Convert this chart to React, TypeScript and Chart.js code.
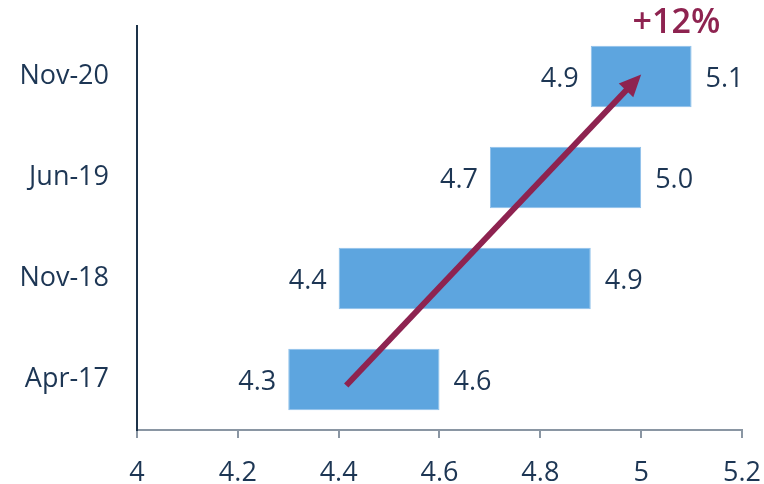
import React, { useEffect, useRef } from "react";
import { Chart, registerables } from "chart.js";

Chart.register(...registerables);

const categories = ["Nov-20", "Jun-19", "Nov-18", "Apr-17"];
const rangeStart = [4.9, 4.7, 4.4, 4.3];
const rangeEnd = [5.1, 5.0, 4.9, 4.6];
const startLabels = ["4.9", "4.7", "4.4", "4.3"];
const endLabels = ["5.1", "5.0", "4.9", "4.6"];
const arrowFrom = [4.415, 3.06];
const arrowTo = [5.0, -0.02];
const changeLabel = "+12%";
const changeLabelX = 5.07;

const FONT = "'Open Sans', 'Noto Sans', sans-serif";
const TEXT = "#1d3654";
const BAR = "#5DA5DF";
const ARROW = "#8E2350";

const overlay = {
  id: "overlay",
  afterDatasetsDraw(chart: any) {
    const ctx = chart.ctx;
    const x = chart.scales.x;
    const y = chart.scales.y;
    const meta = chart.getDatasetMeta(0);
    ctx.save();
    ctx.font = `27px ${FONT}`;
    ctx.fillStyle = TEXT;
    ctx.textBaseline = "middle";
    meta.data.forEach((bar: any, i: number) => {
      const left = x.getPixelForValue(rangeStart[i]);
      const right = x.getPixelForValue(rangeEnd[i]);
      const cy = bar.y + 3;
      ctx.textAlign = "right";
      ctx.fillText(startLabels[i], left - 12, cy);
      ctx.textAlign = "left";
      ctx.fillText(endLabels[i], right + 14, cy);
    });
    // arrow
    const x0 = x.getPixelForValue(arrowFrom[0]);
    const y0 = y.getPixelForValue(arrowFrom[1]);
    const x1 = x.getPixelForValue(arrowTo[0]);
    const y1 = y.getPixelForValue(arrowTo[1]);
    const ang = Math.atan2(y1 - y0, x1 - x0);
    const headLen = 22;
    const headW = 10;
    const bx = x1 - headLen * Math.cos(ang);
    const by = y1 - headLen * Math.sin(ang);
    ctx.strokeStyle = ARROW;
    ctx.fillStyle = ARROW;
    ctx.lineWidth = 6;
    ctx.lineCap = "butt";
    ctx.beginPath();
    ctx.moveTo(x0, y0);
    ctx.lineTo(bx + 2 * Math.cos(ang), by + 2 * Math.sin(ang));
    ctx.stroke();
    ctx.beginPath();
    ctx.moveTo(x1, y1);
    ctx.lineTo(bx + headW * Math.sin(ang), by - headW * Math.cos(ang));
    ctx.lineTo(bx - headW * Math.sin(ang), by + headW * Math.cos(ang));
    ctx.closePath();
    ctx.fill();
    // change label
    ctx.font = `600 34px ${FONT}`;
    ctx.textAlign = "center";
    ctx.textBaseline = "middle";
    ctx.fillText(changeLabel, x.getPixelForValue(changeLabelX), 23);
    ctx.restore();
  },
};

export default function App() {
  const ref = useRef<HTMLCanvasElement>(null);
  useEffect(() => {
    document.body.style.margin = "0";
    const chart = new Chart(ref.current!, {
      type: "bar",
      data: {
        labels: categories,
        datasets: [
          {
            data: rangeStart.map((s, i) => [s, rangeEnd[i]]) as any,
            backgroundColor: BAR,
            borderColor: "#8fc0ea",
            borderWidth: 1,
            borderSkipped: false,
            categoryPercentage: 1,
            barPercentage: 0.61,
          },
        ],
      },
      options: {
        indexAxis: "y",
        animation: false,
        responsive: false,
        maintainAspectRatio: false,
        layout: { padding: { top: 26, right: 22, left: 0, bottom: 0 } },
        plugins: { legend: { display: false }, tooltip: { enabled: false } },
        scales: {
          x: {
            min: 4,
            max: 5.2,
            afterFit: (s: any) => {
              s.height = 54;
              s.paddingLeft = 0;
              s.paddingRight = 0;
            },
            ticks: {
              stepSize: 0.2,
              color: TEXT,
              font: { family: FONT, size: 27 },
              padding: 19,
              callback: (v: any) => String(parseFloat(Number(v).toFixed(1))),
            },
            grid: {
              display: true,
              drawOnChartArea: false,
              drawTicks: true,
              tickLength: 8,
              color: "#8a96a3",
              lineWidth: 2,
            },
            border: { display: true, color: "#8a96a3", width: 2 },
          },
          y: {
            afterFit: (s: any) => {
              s.width = 137;
              s.paddingTop = 0;
              s.paddingBottom = 0;
            },
            ticks: {
              color: TEXT,
              font: { family: FONT, size: 27 },
              padding: 28,
            },
            grid: { display: false, drawTicks: false },
            border: { display: true, color: "#1d3349", width: 2 },
          },
        },
      },
      plugins: [overlay],
    });
    return () => chart.destroy();
  }, []);
  return (
    <div style={{ width: 764, height: 484 }}>
      <canvas ref={ref} width={764} height={484} style={{ display: "block" }} />
    </div>
  );
}
